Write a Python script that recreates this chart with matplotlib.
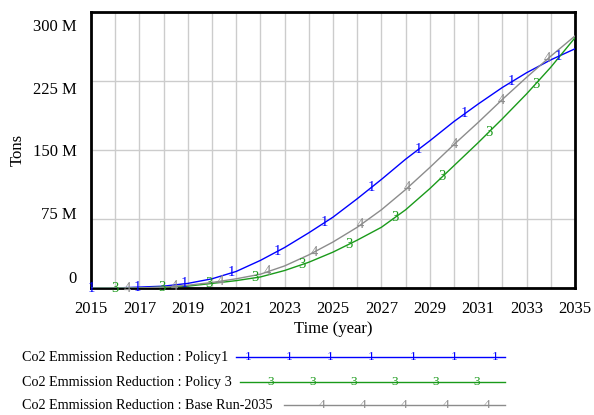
import numpy as np
import matplotlib.pyplot as plt
from matplotlib.lines import Line2D
from matplotlib.transforms import ScaledTranslation

plt.rcParams['font.family'] = ['Liberation Serif', 'DejaVu Serif']

# Data (millions of tons)
years = np.arange(2015, 2036)
policy1 = [0, 0, 1, 2, 5, 10, 18, 30, 44, 60, 77, 97, 118, 140, 160, 181, 200, 218, 234, 248, 260]
policy3 = [0, 0, 0, 1, 2, 5, 8, 12, 19, 28, 39, 52, 66, 85, 108, 133, 158, 184, 211, 240, 272]
base_run = [0, 0, 0, 1, 3, 6, 10, 15, 24, 36, 50, 66, 85, 107, 131, 156, 180, 205, 229, 252, 274]

series_names = ['Co2 Emmission Reduction : Policy1',
                'Co2 Emmission Reduction : Policy 3',
                'Co2 Emmission Reduction : Base Run-2035']
series_marks = ['1', '3', '4']
series_colors = ['#0000ff', '#1a9a1a', '#8c8c8c']
mark_starts = [2015.0, 2016.0, 2016.5]

ytick_vals = [0, 75, 150, 225, 300]
ytick_labels = ['0', '75 M', '150 M', '225 M', '300 M']
xtick_vals = list(range(2015, 2036, 2))

fig = plt.figure(figsize=(5.94, 4.15), dpi=100)
ax = fig.add_axes([91 / 594, 1 - 288 / 415, (575 - 91) / 594, (288 - 12) / 415])

for vals, mark, color, start in zip([policy1, policy3, base_run], series_marks,
                                    series_colors, mark_starts):
    ax.plot(years, vals, color=color, lw=1.0, zorder=3)
    mx = np.arange(start, 2035, 1.93)
    my = np.interp(mx, years, vals)
    for x, y in zip(mx, my):
        ax.text(x, y, mark, color=color, fontsize=10.5, ha='center', va='center', zorder=4)

ax.set_xlim(2015, 2035)
ax.set_ylim(0, 300)
ax.set_xticks(range(2015, 2036), minor=True)
ax.set_xticks(xtick_vals)
ax.set_yticks(ytick_vals)
ax.set_yticklabels(ytick_labels)
ax.grid(True, which='both', axis='x', color='#cccccc', lw=1)
ax.grid(True, which='major', axis='y', color='#cccccc', lw=1)
ax.set_axisbelow(True)
ax.tick_params(which='both', length=0, labelsize=12)
ax.tick_params(axis='y', pad=10)
ax.tick_params(axis='x', pad=9)
for s in ax.spines.values():
    s.set_linewidth(2)
    s.set_color('black')

# Vensim-style label spacing on the y axis
offsets_px = [11, 6, 0, -7, -13]
for lbl, dy in zip(ax.get_yticklabels(), offsets_px):
    lbl.set_transform(lbl.get_transform() + ScaledTranslation(0, dy / 100, fig.dpi_scale_trans))

ax.set_xlabel('Time (year)', fontsize=12, labelpad=3)
fig.text(18 / 594, 1 - 150 / 415, 'Tons', rotation=90, fontsize=12, ha='center', va='center')

# Legend below the chart
rows_y = [357, 382, 405]
line_x0 = [236, 240, 284]
mark_x0 = [248, 271, 322]
for name, mark, color, ry, x0, m0 in zip(series_names, series_marks, series_colors,
                                         rows_y, line_x0, mark_x0):
    yf = 1 - ry / 415
    fig.text(22 / 594, yf, name, fontsize=10.2, ha='left', va='center')
    fig.add_artist(Line2D([x0 / 594, 505 / 594], [yf, yf], color=color, lw=1.0,
                          transform=fig.transFigure))
    for mxp in np.arange(m0, 505, 41.2):
        fig.text(mxp / 594, yf, mark, color=color, fontsize=9.5, ha='center', va='center')

fig.savefig('out.png', dpi=100)
